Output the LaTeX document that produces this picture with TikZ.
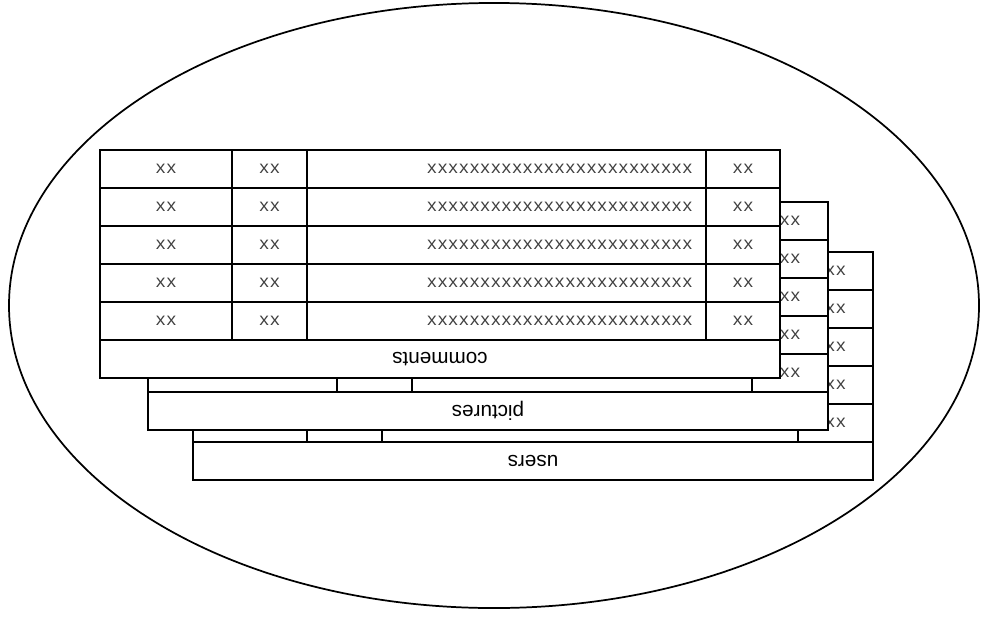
\documentclass[tikz,border=0pt]{standalone}
\usepackage{fontspec}
\setmainfont{Liberation Sans}
\newfontfamily\monof{Liberation Mono}
% table frame: #1 name, #2 left, #3 top, #4,#5,#6 inner column lines, #7 right, #8 label
\newcommand\dbtab[8]{%
  \filldraw[grid, fill=white] (#2,#3) rectangle (#7,#3+228);
  \foreach \i in {1,...,5} \draw[grid] (#2,#3+\i*38) -- (#7,#3+\i*38);
  \foreach \c in {#4,#5,#6} \draw[grid] (\c,#3) -- (\c,#3+190);
  \node[lab] (#1-lab) at ({(#2+#7)/2},#3+209) {#8};
}
% last column texts only (the part visible behind a front table)
\newcommand\dblast[4]{% #1 name, #2 top, #3 last inner column line, #4 right
  \foreach \i in {0,...,4} {
    \node[xxt] (#1-d\i) at ({(#3+#4)/2},#2+\i*38+19) {xx};
  }
}
% all column texts
\newcommand\dbfull[7]{% #1 name, #2 left, #3 top, #4,#5,#6 inner lines, #7 right
  \foreach \i in {0,...,4} {
    \node[xxt] (#1-a\i) at ({(#2+#4)/2},#3+\i*38+19) {xx};
    \node[xxt] (#1-b\i) at ({(#4+#5)/2},#3+\i*38+19) {xx};
    \node[xxt, anchor=east] (#1-c\i) at (#6-13,#3+\i*38+19) {xxxxxxxxxxxxxxxxxxxxxxxxx};
  }
  \dblast{#1}{#3}{#6}{#7}
}
\begin{document}
\begin{tikzpicture}[x=0.75pt,y=-0.75pt,
  grid/.style={draw=black, line width=1.5pt},
  xxt/.style={font=\monof\fontsize{13.3}{13.3}\selectfont, text=black!75, inner sep=0pt},
  lab/.style={font=\fontsize{15.5}{15.5}\selectfont, rotate=180, inner sep=0pt}]
\useasboundingbox (0,0) rectangle (982,618);
\draw[line width=1.3pt, black] (494,305.5) ellipse [x radius=363.75pt, y radius=226.9pt];
\dbtab{users}{193}{252}{307}{382}{798}{873}{users}
\dblast{users}{252}{798}{873}
\dbtab{pictures}{148}{202}{337}{412}{752}{828}{pictures}
\dblast{pictures}{202}{752}{828}
\dbtab{comments}{100}{150}{232}{307}{706}{780}{comments}
\dbfull{comments}{100}{150}{232}{307}{706}{780}
\end{tikzpicture}
\end{document}
